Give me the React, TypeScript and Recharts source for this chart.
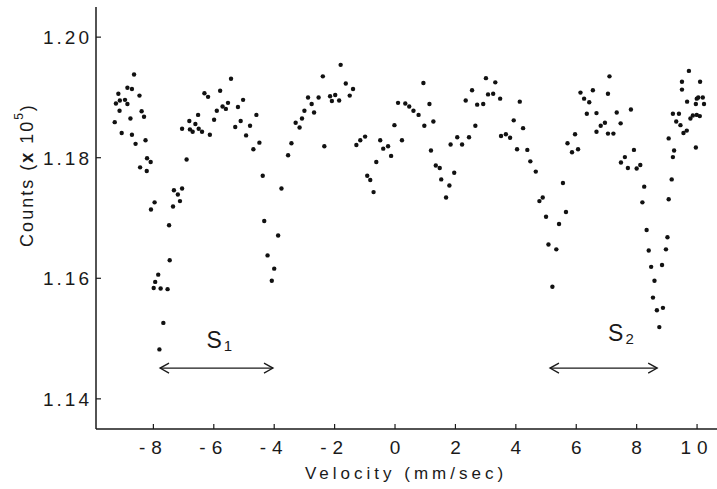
import React from 'react';
import { ScatterChart, Scatter, XAxis, YAxis, ReferenceLine, ReferenceDot } from 'recharts';

const VELOCITY = [
  -9.28,-9.24,-9.16,-9.12,-9.11,-9.05,-8.94,-8.86,-8.86,-8.76,
  -8.71,-8.71,-8.64,-8.59,-8.46,-8.44,-8.39,-8.31,-8.26,-8.22,
  -8.21,-8.09,-8.08,-7.99,-7.96,-7.94,-7.84,-7.80,-7.76,-7.67,
  -7.53,-7.48,-7.46,-7.35,-7.32,-7.19,-7.12,-7.05,-7.05,-6.90,
  -6.81,-6.79,-6.70,-6.61,-6.52,-6.50,-6.39,-6.31,-6.19,-6.13,
  -5.99,-5.90,-5.79,-5.71,-5.60,-5.53,-5.43,-5.29,-5.20,-5.11,
  -5.03,-4.93,-4.80,-4.69,-4.59,-4.49,-4.38,-4.33,-4.22,-4.08,
  -4.00,-3.87,-3.76,-3.54,-3.43,-3.29,-3.16,-3.08,-3.00,-2.88,
  -2.76,-2.68,-2.53,-2.39,-2.34,-2.15,-2.09,-1.98,-1.85,-1.80,
  -1.63,-1.50,-1.39,-1.28,-1.15,-0.99,-0.92,-0.82,-0.71,-0.62,
  -0.49,-0.39,-0.23,-0.13,-0.02,0.10,0.23,0.34,0.47,0.61,
  0.78,0.94,0.97,1.14,1.19,1.27,1.35,1.48,1.53,1.69,
  1.80,1.84,1.96,2.06,2.22,2.34,2.45,2.55,2.66,2.72,
  2.92,3.01,3.08,3.25,3.32,3.48,3.51,3.67,3.81,3.93,
  4.04,4.13,4.24,4.38,4.48,4.66,4.78,4.89,5.00,5.08,
  5.21,5.34,5.43,5.56,5.66,5.71,5.86,5.96,6.06,6.14,
  6.26,6.35,6.43,6.55,6.67,6.67,6.81,6.95,7.05,7.05,
  7.10,7.23,7.34,7.47,7.48,7.61,7.71,7.81,7.91,8.00,
  8.12,8.19,8.25,8.33,8.40,8.48,8.54,8.59,8.67,8.75,
  8.84,8.87,8.97,9.02,9.06,9.06,9.16,9.20,9.20,9.24,
  9.31,9.40,9.45,9.50,9.50,9.55,9.66,9.67,9.73,9.78,
  9.86,9.96,9.96,9.99,9.99,10.04,10.09,10.10,10.19,10.23,
];

const COUNTS = [
  1.1859,1.1890,1.1906,1.1878,1.1895,1.1841,1.1896,1.1916,1.1889,1.1865,
  1.1914,1.1838,1.1938,1.1823,1.1903,1.1784,1.1877,1.1868,1.1829,1.1778,
  1.1799,1.1793,1.1714,1.1584,1.1726,1.1594,1.1606,1.1482,1.1583,1.1526,
  1.1582,1.1688,1.1630,1.1719,1.1746,1.1739,1.1728,1.1749,1.1848,1.1797,
  1.1861,1.1847,1.1843,1.1856,1.1871,1.1848,1.1843,1.1907,1.1901,1.1838,
  1.1863,1.1878,1.1911,1.1885,1.1881,1.1891,1.1931,1.1851,1.1884,1.1861,
  1.1896,1.1837,1.1853,1.1814,1.1871,1.1825,1.1770,1.1695,1.1638,1.1596,
  1.1616,1.1671,1.1749,1.1804,1.1824,1.1858,1.1850,1.1865,1.1878,1.1900,
  1.1889,1.1875,1.1900,1.1935,1.1819,1.1902,1.1894,1.1904,1.1895,1.1954,
  1.1923,1.1903,1.1914,1.1821,1.1829,1.1835,1.1770,1.1763,1.1743,1.1793,
  1.1829,1.1815,1.1819,1.1803,1.1854,1.1891,1.1829,1.1890,1.1885,1.1878,
  1.1871,1.1924,1.1853,1.1889,1.1812,1.1860,1.1787,1.1783,1.1764,1.1734,
  1.1754,1.1822,1.1775,1.1834,1.1822,1.1895,1.1834,1.1912,1.1853,1.1888,
  1.1889,1.1932,1.1905,1.1906,1.1925,1.1898,1.1836,1.1839,1.1833,1.1862,
  1.1814,1.1893,1.1849,1.1813,1.1794,1.1777,1.1728,1.1734,1.1702,1.1656,
  1.1586,1.1648,1.1690,1.1758,1.1710,1.1824,1.1809,1.1839,1.1814,1.1908,
  1.1898,1.1873,1.1892,1.1912,1.1874,1.1843,1.1853,1.1858,1.1906,1.1840,
  1.1935,1.1840,1.1875,1.1857,1.1792,1.1801,1.1783,1.1880,1.1813,1.1782,
  1.1788,1.1726,1.1752,1.1680,1.1646,1.1619,1.1568,1.1596,1.1547,1.1519,
  1.1622,1.1551,1.1648,1.1668,1.1731,1.1832,1.1764,1.1801,1.1873,1.1812,
  1.1860,1.1873,1.1854,1.1913,1.1926,1.1841,1.1845,1.1893,1.1944,1.1865,
  1.1870,1.1889,1.1817,1.1898,1.1871,1.1900,1.1869,1.1926,1.1900,1.1889,
];

const X_TICKS = [-8, -6, -4, -2, 0, 2, 4, 6, 8, 10];
const Y_TICKS = [1.14, 1.16, 1.18, 1.2];

// Site ranges (arrows) and their labels
const SITE_NAMES = ['1', '2'];
const SITE_FROM = [-7.78, 5.13];
const SITE_TO = [-4.04, 8.68];
const SITE_LEVEL = [1.1451, 1.1451];
const SITE_LABEL_V = [-5.82, 7.48];
const SITE_LABEL_C = [1.1484, 1.1496];

const data = VELOCITY.map((v, i) => ({ v, c: COUNTS[i] }));

const FONT = '"Liberation Sans", "DejaVu Sans", sans-serif';
const INK = '#1a1a1a';

const YTick = (props: any) => {
  const { x, y, payload } = props;
  return (
    <g>
      <line x1={x} y1={y} x2={x + 5} y2={y} stroke={INK} strokeWidth={1.2} />
      <text x={x - 4} y={y + 7} textAnchor="end" fontFamily={FONT} fontSize={19} fill={INK} letterSpacing={3}>
        {Number(payload.value).toFixed(2)}
      </text>
    </g>
  );
};

const XTick = (props: any) => {
  const { x, y, payload } = props;
  return (
    <g>
      <line x1={x} y1={y} x2={x} y2={y - 5} stroke={INK} strokeWidth={1.2} />
      <text x={x} y={y + 25} textAnchor="middle" fontFamily={FONT} fontSize={19} fill={INK} letterSpacing={String(payload.value).length > 1 ? 6 : 0}>
        {payload.value < 0 ? '-' + Math.abs(payload.value) : String(payload.value)}
      </text>
    </g>
  );
};

const arrowShape = (props: any) => {
  const { x1, y1, x2, y2 } = props;
  const a = 9;
  const b = 5;
  return (
    <g stroke={INK} strokeWidth={1.3} fill="none">
      <line x1={x1} y1={y1} x2={x2} y2={y2} />
      <polyline points={`${x1 + a},${y1 - b} ${x1},${y1} ${x1 + a},${y1 + b}`} />
      <polyline points={`${x2 - a},${y2 - b} ${x2},${y2} ${x2 - a},${y2 + b}`} />
    </g>
  );
};

const makeLabelShape = (sub: string) => (props: any) => {
  const { cx, cy } = props;
  return (
    <text x={cx} y={cy} textAnchor="middle" fontFamily={FONT} fill={INK}>
      <tspan fontSize={23}>S</tspan>
      <tspan fontSize={15} dx={2} dy={3}>{sub}</tspan>
    </text>
  );
};

const Dot = (props: any) => {
  const { cx, cy } = props;
  if (cx == null || cy == null) return null;
  return <circle cx={cx} cy={cy} r={2.2} fill="#111" />;
};

const YTitle = (props: any) => {
  const vb = props.viewBox || { x: 0, y: 7 };
  const cx = vb.x + 27;
  const cy = vb.y + 168;
  return (
    <text x={cx} y={cy} transform={`rotate(-90 ${cx} ${cy})`} textAnchor="middle" dominantBaseline="central" fontFamily={FONT} fontSize={18} fill={INK} letterSpacing={2}>
      <tspan>Counts  (</tspan>
      <tspan fontWeight="bold">x</tspan>
      <tspan> 10</tspan>
      <tspan fontSize={12} dy={-8}>5</tspan>
      <tspan dy={8}>)</tspan>
    </text>
  );
};

const XTitle = (props: any) => {
  const vb = props.viewBox || { x: 96, y: 429 };
  const cx = vb.x + 310;
  const cy = vb.y + 50;
  return (
    <text x={cx} y={cy} textAnchor="middle" fontFamily={FONT} fontSize={17} fill={INK} letterSpacing={4}>
      Velocity  (mm/sec)
    </text>
  );
};

export default function App() {
  return (
    <div style={{ position: 'absolute', left: 0, top: 0, width: 717, height: 489, background: '#fff' }}>
      <ScatterChart width={717} height={489} margin={{ top: 7, right: 0, bottom: 0, left: 0 }}>
        <XAxis
          type="number"
          dataKey="v"
          domain={[-9.9, 10.66]}
          ticks={X_TICKS}
          allowDataOverflow
          height={60}
          tickSize={0}
          tickMargin={0}
          tickLine={false}
          axisLine={{ stroke: INK, strokeWidth: 1.5 }}
          tick={<XTick />}
          label={<XTitle />}
          interval={0}
        />
        <YAxis
          type="number"
          dataKey="c"
          domain={[1.135, 1.205]}
          ticks={Y_TICKS}
          allowDataOverflow
          width={96}
          tickSize={0}
          tickMargin={0}
          tickLine={false}
          axisLine={{ stroke: INK, strokeWidth: 1.5 }}
          tick={<YTick />}
          label={<YTitle />}
          interval={0}
        />
        <Scatter data={data} isAnimationActive={false} shape={<Dot />} />
        {SITE_NAMES.map((name, i) => (
          <ReferenceLine
            key={'arrow' + name}
            segment={[{ x: SITE_FROM[i], y: SITE_LEVEL[i] }, { x: SITE_TO[i], y: SITE_LEVEL[i] }]}
            shape={arrowShape}
          />
        ))}
        {SITE_NAMES.map((name, i) => (
          <ReferenceDot
            key={'lbl' + name}
            x={SITE_LABEL_V[i]}
            y={SITE_LABEL_C[i]}
            shape={makeLabelShape(name)}
          />
        ))}
      </ScatterChart>
    </div>
  );
}
